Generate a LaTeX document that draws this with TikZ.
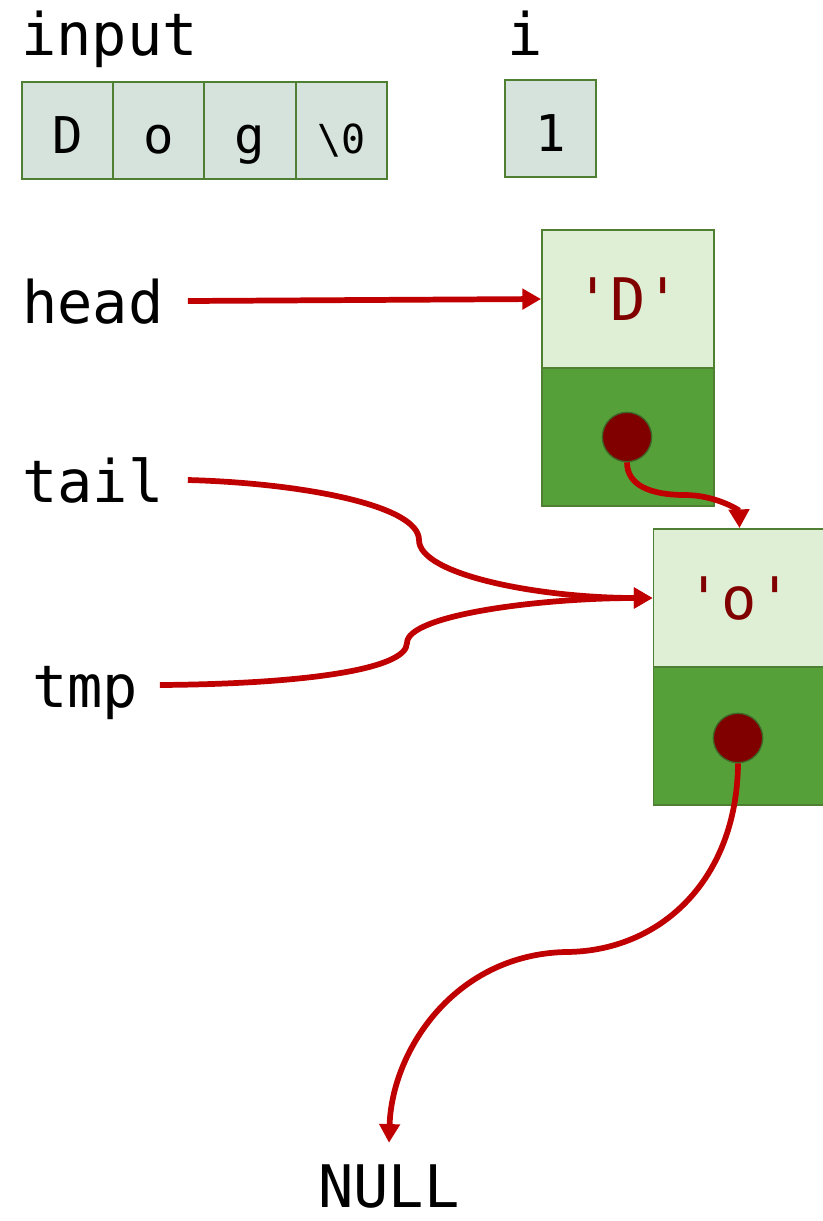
\documentclass[tikz,border=0pt]{standalone}
\usepackage{fontspec}
\setmainfont{DejaVu Sans Mono}
\usepackage{xcolor}
\usetikzlibrary{arrows.meta}
\definecolor{cellgray}{HTML}{D6E2DC}
\definecolor{boxline}{HTML}{4E7F32}
\definecolor{valgreen}{HTML}{DEEFD6}
\definecolor{nextgreen}{HTML}{56A03A}
\definecolor{dotred}{HTML}{800000}
\definecolor{ptrred}{HTML}{C00000}

\tikzset{
  cell/.style={draw=boxline, line width=1.4pt, fill=cellgray, inner sep=0pt,
    minimum width=68.25pt, minimum height=72.75pt,
    text height=35pt, text depth=0pt, font=\fontsize{38}{38}\selectfont},
  valbox/.style={draw=boxline, line width=1.4pt, fill=valgreen, inner sep=0pt,
    minimum width=129pt, minimum height=103.5pt, text=dotred,
    text height=32pt, text depth=0pt, font=\fontsize{44}{44}\selectfont},
  nextbox/.style={draw=boxline, line width=1.4pt, fill=nextgreen, inner sep=0pt,
    minimum width=129pt, minimum height=103.5pt},
  dot/.style={circle, draw=boxline!80!black, line width=1pt, fill=dotred,
    minimum size=37pt, inner sep=0pt},
  varname/.style={inner sep=0pt, text height=33pt, text depth=0pt,
    font=\fontsize{44}{44}\selectfont},
  ptr/.style={draw=ptrred, line width=4.3pt,
    -{Triangle[length=14pt,width=15pt]}}
}

\begin{document}
\begin{tikzpicture}[x=0.75pt, y=-0.75pt]
  \useasboundingbox (0,0) rectangle (823,1221);

  % the input array and i
  \node[varname, anchor=base west] (input) at (21,55) {input};
  \node[cell] (c0) at (67.5,130.5) {D};
  \node[cell] (c1) at (158.5,130.5) {o};
  \node[cell] (c2) at (250,130.5) {g};
  \node[cell] (c3) at (341.5,130.5) {{\fontsize{30}{30}\selectfont\textbackslash0}};
  \node[varname, anchor=base] (ivar) at (525,55) {i};
  \node[cell] (icell) at (550.5,128.5) {1};

  % list nodes
  \node[valbox] (dval) at (628,299) {\textquotesingle D\textquotesingle};
  \node[nextbox] (dnext) at (628,437) {};
  \node[valbox] (oval) at (739.5,598) {\textquotesingle o\textquotesingle};
  \node[nextbox] (onext) at (739.5,736) {};

  % pointer variables
  \node[varname, anchor=base west] (head) at (22,323) {head};
  \node[varname, anchor=base west] (tail) at (22,502) {tail};
  \node[varname, anchor=base west] (tmp) at (32,707) {tmp};
  \node[varname, anchor=base] (null) at (389,1207) {NULL};

  \node[dot] (ddot) at (627,437) {};
  \node[dot] (odot) at (738,738) {};

  \draw[ptr] ([xshift=18pt]head.east) -- (dval.west);
  \draw[ptr] ([xshift=18pt]tail.east) .. controls (300,483) and (419,505) .. (419,540)
    .. controls (419,575) and (540,598) .. (oval.west);
  \draw[ptr] ([xshift=16pt]tmp.east) .. controls (300,684) and (407,670) .. (407,643)
    .. controls (407,615) and (540,598) .. (oval.west);
  \draw[ptr] (ddot.south) .. controls (627,485) and (650,495) .. (685,495)
    .. controls (715,495) and (739,510) .. (oval.north);
  \draw[ptr] (odot.south) .. controls (737,880) and (660,952) .. (565,952)
    .. controls (455,955) and (392,1050) .. ([yshift=15pt]null.north);
\end{tikzpicture}
\end{document}
